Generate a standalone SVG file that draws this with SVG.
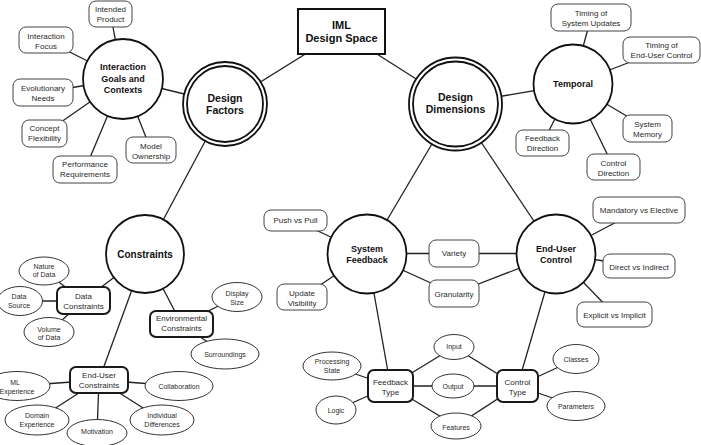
<svg xmlns="http://www.w3.org/2000/svg" width="701" height="445" viewBox="0 0 701 445">
<style>
text{font-family:"Liberation Sans",Arial,Helvetica,sans-serif;text-anchor:middle;fill:#2a2a2a}
.b{font-weight:bold;fill:#111;font-size:9px}
.s{font-size:8px}
.e{font-size:7px}
.leaf{fill:#fff;stroke:#444;stroke-width:1}
.sub{fill:#fff;stroke:#1a1a1a;stroke-width:2}
.ell{fill:#fff;stroke:#333;stroke-width:1}
.hub{fill:#fff;stroke:#111;stroke-width:1.8}
#connectors line{stroke:#222;stroke-width:1.3}
</style>
<rect width="701" height="445" fill="#fff"/>
<g id="connectors">
<line x1="341.5" y1="31.5" x2="225" y2="104"/>
<line x1="341.5" y1="31.5" x2="455.5" y2="104"/>
<line x1="123" y1="79" x2="225" y2="104"/>
<line x1="225" y1="104" x2="145" y2="254"/>
<line x1="455.5" y1="104" x2="573" y2="84"/>
<line x1="455.5" y1="104" x2="367" y2="254"/>
<line x1="455.5" y1="104" x2="556" y2="254"/>
<line x1="110.5" y1="14.5" x2="123" y2="79"/>
<line x1="46" y1="40" x2="123" y2="79"/>
<line x1="43" y1="92.5" x2="123" y2="79"/>
<line x1="44.5" y1="133.5" x2="123" y2="79"/>
<line x1="85" y1="169.5" x2="123" y2="79"/>
<line x1="151" y1="150" x2="123" y2="79"/>
<line x1="591" y1="17.5" x2="573" y2="84"/>
<line x1="661.5" y1="50" x2="573" y2="84"/>
<line x1="647.5" y1="128.5" x2="573" y2="84"/>
<line x1="613.5" y1="167" x2="573" y2="84"/>
<line x1="542.5" y1="143" x2="573" y2="84"/>
<line x1="145" y1="254" x2="83.5" y2="300.5"/>
<line x1="145" y1="254" x2="181.5" y2="324"/>
<line x1="145" y1="254" x2="99" y2="380"/>
<line x1="44" y1="271" x2="83.5" y2="300.5"/>
<line x1="20" y1="301" x2="83.5" y2="301"/>
<line x1="49" y1="332" x2="83.5" y2="300.5"/>
<line x1="237" y1="297" x2="181.5" y2="324"/>
<line x1="225" y1="354" x2="181.5" y2="324"/>
<line x1="17" y1="386" x2="99" y2="380"/>
<line x1="179" y1="386" x2="99" y2="380"/>
<line x1="37" y1="420" x2="99" y2="380"/>
<line x1="97" y1="433" x2="99" y2="380"/>
<line x1="162" y1="420" x2="99" y2="380"/>
<line x1="295.5" y1="220.5" x2="367" y2="254"/>
<line x1="367" y1="253.5" x2="556" y2="253.5"/>
<line x1="367" y1="254" x2="454" y2="293.5"/>
<line x1="454" y1="293.5" x2="556" y2="254"/>
<line x1="302" y1="297" x2="367" y2="254"/>
<line x1="367" y1="254" x2="390.5" y2="386"/>
<line x1="556" y1="254" x2="517.5" y2="386"/>
<line x1="639" y1="210" x2="556" y2="254"/>
<line x1="639" y1="266" x2="556" y2="254"/>
<line x1="614.5" y1="314.5" x2="556" y2="254"/>
<line x1="390.5" y1="386" x2="454" y2="347"/>
<line x1="454" y1="347" x2="517.5" y2="386"/>
<line x1="390.5" y1="386" x2="517.5" y2="386"/>
<line x1="390.5" y1="386" x2="456" y2="426"/>
<line x1="456" y1="426" x2="517.5" y2="386"/>
<line x1="332" y1="366" x2="390.5" y2="386"/>
<line x1="336" y1="410" x2="390.5" y2="386"/>
<line x1="517.5" y1="386" x2="576" y2="359"/>
<line x1="517.5" y1="386" x2="576" y2="406"/>
</g>

<g id="iml">
<rect x="298" y="9" width="87" height="45" fill="#fff" stroke="#111" stroke-width="2"/>
<text class="b" style="font-size:11px" x="341.5" y="29">IML</text>
<text class="b" style="font-size:11px" x="341.5" y="42">Design Space</text>
</g>
<g id="design-factors">
<circle class="hub" cx="225" cy="104" r="42"/>
<circle class="hub" cx="225" cy="104" r="38"/>
<text class="b" style="font-size:10.5px" x="225" y="101.5">Design</text>
<text class="b" style="font-size:10.5px" x="225" y="113.5">Factors</text>
</g>
<g id="design-dimensions">
<circle class="hub" cx="455.5" cy="104" r="46.5"/>
<circle class="hub" cx="455.5" cy="104" r="42.5"/>
<text class="b" style="font-size:10.5px" x="455.5" y="100.5">Design</text>
<text class="b" style="font-size:10.5px" x="455.5" y="112.5">Dimensions</text>
</g>

<g id="interaction-goals">
<circle class="hub" cx="123" cy="79" r="40"/>
<text class="b" x="123" y="70.3">Interaction</text>
<text class="b" x="123" y="81.8">Goals and</text>
<text class="b" x="123" y="93.3">Contexts</text>
</g>
<g id="intended-product"><rect class="leaf" x="89" y="1" width="43" height="26" rx="7"/><text class="s" x="110.5" y="12">Intended</text><text class="s" x="110.5" y="22">Product</text></g>
<g id="interaction-focus"><rect class="leaf" x="19" y="27" width="54" height="26" rx="7"/><text class="s" x="46" y="39">Interaction</text><text class="s" x="46" y="49">Focus</text></g>
<g id="evolutionary-needs"><rect class="leaf" x="13" y="79" width="60" height="27" rx="7"/><text class="s" x="43" y="91">Evolutionary</text><text class="s" x="43" y="101">Needs</text></g>
<g id="concept-flexibility"><rect class="leaf" x="22" y="120" width="45" height="27" rx="7"/><text class="s" x="44.5" y="131">Concept</text><text class="s" x="44.5" y="141">Flexibility</text></g>
<g id="model-ownership"><rect class="leaf" x="126" y="137" width="50" height="26" rx="7"/><text class="s" x="151" y="149">Model</text><text class="s" x="151" y="158.5">Ownership</text></g>
<g id="performance-requirements"><rect class="leaf" x="53" y="156" width="64" height="27" rx="7"/><text class="s" x="85" y="167">Performance</text><text class="s" x="85" y="177">Requirements</text></g>

<g id="temporal">
<circle class="hub" cx="573" cy="84" r="39.5"/>
<text class="b" x="573" y="87.3">Temporal</text>
</g>
<g id="timing-system-updates"><rect class="leaf" x="551" y="4" width="80" height="27" rx="7"/><text class="s" x="591" y="16">Timing of</text><text class="s" x="591" y="26">System Updates</text></g>
<g id="timing-end-user-control"><rect class="leaf" x="623" y="37" width="77" height="26" rx="7"/><text class="s" x="661.5" y="48">Timing of</text><text class="s" x="661.5" y="58">End-User Control</text></g>
<g id="system-memory"><rect class="leaf" x="623" y="115" width="49" height="27" rx="7"/><text class="s" x="647.5" y="127">System</text><text class="s" x="647.5" y="137">Memory</text></g>
<g id="control-direction"><rect class="leaf" x="587" y="154" width="53" height="26" rx="7"/><text class="s" x="613.5" y="166">Control</text><text class="s" x="613.5" y="175.5">Direction</text></g>
<g id="feedback-direction"><rect class="leaf" x="516" y="130" width="53" height="26" rx="7"/><text class="s" x="542.5" y="141">Feedback</text><text class="s" x="542.5" y="151">Direction</text></g>

<g id="constraints">
<circle class="hub" cx="145" cy="254" r="39"/>
<text class="b" style="font-size:10px" x="145" y="257.5">Constraints</text>
</g>
<g id="data-constraints"><rect class="sub" x="57" y="287" width="53" height="27" rx="6"/><text class="s" x="83.5" y="299">Data</text><text class="s" x="83.5" y="309">Constraints</text></g>
<g id="nature-of-data"><ellipse class="ell" cx="44" cy="271" rx="25" ry="14"/><text class="e" x="44" y="268.5">Nature</text><text class="e" x="44" y="277">of Data</text></g>
<g id="data-source"><ellipse class="ell" cx="20" cy="301" rx="22.5" ry="14.5"/><text class="e" x="19" y="299">Data</text><text class="e" x="19" y="308">Source</text></g>
<g id="volume-of-data"><ellipse class="ell" cx="49" cy="332" rx="25" ry="14.5"/><text class="e" x="49" y="331.5">Volume</text><text class="e" x="49" y="340">of Data</text></g>
<g id="environmental-constraints"><rect class="sub" x="150" y="311" width="63" height="26" rx="6"/><text class="s" x="181.5" y="321">Environmental</text><text class="s" x="181.5" y="331">Constraints</text></g>
<g id="display-size"><ellipse class="ell" cx="237" cy="297" rx="25" ry="14.5"/><text class="e" x="237" y="295.5">Display</text><text class="e" x="237" y="304.5">Size</text></g>
<g id="surroundings"><ellipse class="ell" cx="225" cy="354" rx="34" ry="15"/><text class="e" x="225" y="356.5">Surroundings</text></g>
<g id="end-user-constraints"><rect class="sub" x="70" y="367" width="58" height="26" rx="6"/><text class="s" x="99" y="378">End-User</text><text class="s" x="99" y="388">Constraints</text></g>
<g id="ml-experience"><ellipse class="ell" cx="17" cy="386" rx="33" ry="14.5"/><text class="e" x="15" y="384.5">ML</text><text class="e" x="17" y="393.5">Experience</text></g>
<g id="collaboration"><ellipse class="ell" cx="179" cy="386" rx="34" ry="14.5"/><text class="e" x="179" y="388.5">Collaboration</text></g>
<g id="domain-experience"><ellipse class="ell" cx="37" cy="420" rx="32" ry="15"/><text class="e" x="37" y="417.5">Domain</text><text class="e" x="37" y="426.5">Experience</text></g>
<g id="motivation"><ellipse class="ell" cx="97" cy="433" rx="30" ry="13.5"/><text class="e" x="97" y="434">Motivation</text></g>
<g id="individual-differences"><ellipse class="ell" cx="162" cy="420" rx="32" ry="15"/><text class="e" x="162" y="417.5">Individual</text><text class="e" x="162" y="426.5">Differences</text></g>

<g id="system-feedback">
<circle class="hub" cx="367" cy="254" r="39.5"/>
<text class="b" x="367" y="252.3">System</text>
<text class="b" x="367" y="263.3">Feedback</text>
</g>
<g id="push-vs-pull"><rect class="leaf" x="264" y="210" width="63" height="21" rx="7"/><text class="s" x="295.5" y="223">Push vs Pull</text></g>
<g id="variety"><rect class="leaf" x="429" y="240" width="50" height="27" rx="7"/><text class="s" x="454" y="256">Variety</text></g>
<g id="granularity"><rect class="leaf" x="429" y="280" width="50" height="27" rx="7"/><text class="s" x="454" y="297">Granularity</text></g>
<g id="update-visibility"><rect class="leaf" x="277" y="284" width="50" height="26" rx="7"/><text class="s" x="302" y="296">Update</text><text class="s" x="302" y="306">Visibility</text></g>

<g id="end-user-control">
<circle class="hub" cx="556" cy="254" r="39.5"/>
<text class="b" x="556" y="252.3">End-User</text>
<text class="b" x="556" y="263.3">Control</text>
</g>
<g id="mandatory-vs-elective"><rect class="leaf" x="593" y="197" width="92" height="26" rx="7"/><text class="s" x="639" y="213">Mandatory vs Elective</text></g>
<g id="direct-vs-indirect"><rect class="leaf" x="603" y="254" width="72" height="24" rx="7"/><text class="s" x="639" y="269.5">Direct vs Indirect</text></g>
<g id="explicit-vs-implicit"><rect class="leaf" x="577" y="302" width="75" height="25" rx="7"/><text class="s" x="614.5" y="318">Explicit vs Implicit</text></g>

<g id="feedback-type"><rect class="sub" x="368" y="370" width="45" height="32" rx="6"/><text class="s" x="390.5" y="385">Feedback</text><text class="s" x="390.5" y="395">Type</text></g>
<g id="control-type"><rect class="sub" x="497" y="370" width="41" height="32" rx="6"/><text class="s" x="517.5" y="385">Control</text><text class="s" x="517.5" y="395">Type</text></g>
<g id="input"><ellipse class="ell" cx="454" cy="347" rx="20" ry="12.5"/><text class="e" x="454" y="348.5">Input</text></g>
<g id="output"><ellipse class="ell" cx="453" cy="386" rx="21" ry="12"/><text class="e" x="453" y="388.5">Output</text></g>
<g id="features"><ellipse class="ell" cx="456" cy="426" rx="25" ry="13"/><text class="e" x="456" y="429.5">Features</text></g>
<g id="processing-state"><ellipse class="ell" cx="332" cy="366" rx="29" ry="14"/><text class="e" x="332" y="363.5">Processing</text><text class="e" x="332" y="372.5">State</text></g>
<g id="logic"><ellipse class="ell" cx="336" cy="410" rx="20" ry="14"/><text class="e" x="336" y="413">Logic</text></g>
<g id="classes"><ellipse class="ell" cx="576" cy="359" rx="23" ry="14.5"/><text class="e" x="576" y="361.5">Classes</text></g>
<g id="parameters"><ellipse class="ell" cx="576" cy="406" rx="29" ry="14.5"/><text class="e" x="576" y="408.5">Parameters</text></g>
</svg>
